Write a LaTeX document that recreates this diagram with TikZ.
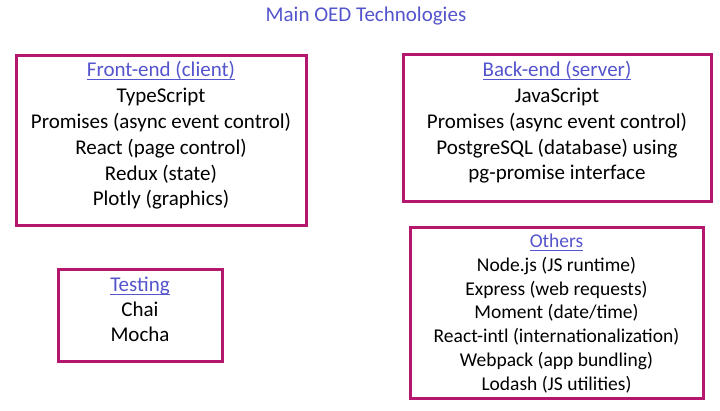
\documentclass[tikz,border=0pt]{standalone}
\usepackage{fontspec}
\setmainfont{Carlito}
\usetikzlibrary{positioning}

\definecolor{rimred}{HTML}{B5176E}
\definecolor{headblue}{HTML}{5454CC}

\newsavebox\headbox
\newcommand\headline[1]{%
  \sbox\headbox{\color{headblue}#1}%
  {\color{headblue}\rlap{\rule[-3.2pt]{\wd\headbox}{1.3pt}}}\usebox\headbox}

\begin{document}
\begin{tikzpicture}[x=1pt,y=-1pt,
    panel/.style={draw=rimred,line width=3pt,rectangle,inner sep=0pt},
    list/.style={align=center,inner sep=0pt,anchor=base,
      font=\fontsize{21}{25.8}\selectfont},
    smalllist/.style={list,font=\fontsize{19.5}{23.7}\selectfont}]

  \useasboundingbox (0,0) rectangle (720,411);

  \node[anchor=base,text=headblue,font=\fontsize{21}{25}\selectfont] (title)
    at (366,22) {Main OED Technologies};

  \node[panel,minimum width=290pt,minimum height=170pt] (frontbox) at (161,141) {};
  \node[panel,minimum width=308pt,minimum height=147pt] (backbox) at (557,128.5) {};
  \node[panel,minimum width=164pt,minimum height=92pt] (testbox) at (140,316) {};
  \node[panel,minimum width=293pt,minimum height=170pt] (otherbox) at (556.5,313) {};

  % anchor base = baseline of the last line
  \node[list] (front) at (161,206) {\headline{Front-end (client)}\\
    TypeScript\\ Promises (async event control)\\ React (page control)\\
    Redux (state)\\ Plotly (graphics)};
  \node[list] (back) at (557,180) {\headline{Back-end (server)}\\
    JavaScript\\ Promises (async event control)\\ PostgreSQL (database) using\\
    pg-promise interface};
  \node[list,font=\fontsize{21}{25}\selectfont] (test) at (140,342)
    {\headline{Testing}\\ Chai\\ Mocha};
  \node[smalllist] (other) at (556.5,390) {\headline{Others}\\
    Node.js (JS runtime)\\ Express (web requests)\\ Moment (date/time)\\
    React-intl (internationalization)\\ Webpack (app bundling)\\
    Lodash (JS utilities)};

\end{tikzpicture}
\end{document}
